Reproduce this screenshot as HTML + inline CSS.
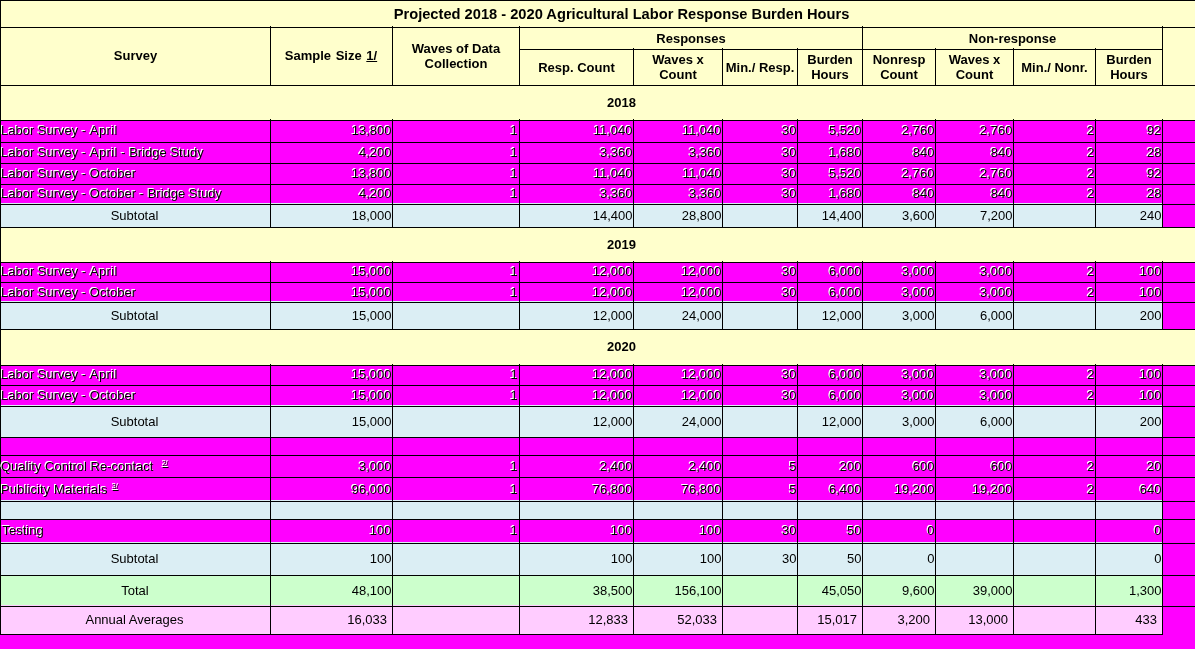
<!DOCTYPE html>
<html><head><meta charset="utf-8"><title>Burden Hours</title>
<style>
html,body{margin:0;padding:0;}
body{width:1195px;height:649px;overflow:hidden;background:#ffffcc;position:relative;font-family:"Liberation Sans",sans-serif;font-size:13px;color:#000;}
.r,.k,.t{position:absolute;}
.k{background:#000;}
.t{white-space:nowrap;will-change:transform;}
.b{font-weight:bold;}
.title{font-size:14.67px;}
.e{color:#000;text-shadow:-1px -1px 0 #fff,-1px -1px 0 #fff;}
.ap{letter-spacing:.35px;}
.sup{font-size:7px;line-height:0;vertical-align:5px;text-decoration:underline;}
</style></head><body>
<div class="r" style="left:0px;top:0px;width:1195px;height:649px;background:#ffffcc"></div>
<div class="r" style="left:0px;top:120px;width:1195px;height:22px;background:#ff00ff"></div>
<div class="r" style="left:0px;top:142px;width:1195px;height:21px;background:#ff00ff"></div>
<div class="r" style="left:0px;top:163px;width:1195px;height:21px;background:#ff00ff"></div>
<div class="r" style="left:0px;top:184px;width:1195px;height:20px;background:#ff00ff"></div>
<div class="r" style="left:0px;top:203px;width:1162px;height:24px;background:#dbeef4"></div>
<div class="r" style="left:1162px;top:204px;width:33px;height:23px;background:#ff00ff"></div>
<div class="r" style="left:0px;top:262px;width:1195px;height:20px;background:#ff00ff"></div>
<div class="r" style="left:0px;top:282px;width:1195px;height:20px;background:#ff00ff"></div>
<div class="r" style="left:0px;top:301px;width:1162px;height:28px;background:#dbeef4"></div>
<div class="r" style="left:1162px;top:302px;width:33px;height:27px;background:#ff00ff"></div>
<div class="r" style="left:0px;top:365px;width:1195px;height:20px;background:#ff00ff"></div>
<div class="r" style="left:0px;top:385px;width:1195px;height:21px;background:#ff00ff"></div>
<div class="r" style="left:0px;top:405px;width:1162px;height:32px;background:#dbeef4"></div>
<div class="r" style="left:1162px;top:406px;width:33px;height:31px;background:#ff00ff"></div>
<div class="r" style="left:0px;top:437px;width:1195px;height:18px;background:#ff00ff"></div>
<div class="r" style="left:0px;top:455px;width:1195px;height:22px;background:#ff00ff"></div>
<div class="r" style="left:0px;top:477px;width:1195px;height:24px;background:#ff00ff"></div>
<div class="r" style="left:0px;top:500px;width:1162px;height:19px;background:#dbeef4"></div>
<div class="r" style="left:1162px;top:501px;width:33px;height:18px;background:#ff00ff"></div>
<div class="r" style="left:0px;top:519px;width:1195px;height:24px;background:#ff00ff"></div>
<div class="r" style="left:0px;top:542px;width:1162px;height:33px;background:#dbeef4"></div>
<div class="r" style="left:1162px;top:543px;width:33px;height:32px;background:#ff00ff"></div>
<div class="r" style="left:0px;top:575px;width:1162px;height:31px;background:#ccffcc"></div>
<div class="r" style="left:1162px;top:575px;width:33px;height:31px;background:#ff00ff"></div>
<div class="r" style="left:0px;top:605px;width:1162px;height:29px;background:#ffccff"></div>
<div class="r" style="left:1162px;top:606px;width:33px;height:28px;background:#ff00ff"></div>
<div class="r" style="left:0px;top:634px;width:1195px;height:15px;background:#ff00ff"></div>
<div class="k" style="left:0px;top:0px;width:1195px;height:1px"></div>
<div class="k" style="left:0px;top:27px;width:1195px;height:1px"></div>
<div class="k" style="left:519px;top:49px;width:643px;height:1px"></div>
<div class="k" style="left:0px;top:85px;width:1195px;height:1px"></div>
<div class="k" style="left:0px;top:85px;width:1195px;height:1px"></div>
<div class="k" style="left:0px;top:120px;width:1195px;height:1px"></div>
<div class="k" style="left:0px;top:142px;width:1195px;height:1px"></div>
<div class="k" style="left:0px;top:163px;width:1195px;height:1px"></div>
<div class="k" style="left:0px;top:184px;width:1195px;height:1px"></div>
<div class="k" style="left:0px;top:204px;width:1195px;height:1px"></div>
<div class="k" style="left:0px;top:227px;width:1195px;height:1px"></div>
<div class="k" style="left:0px;top:262px;width:1195px;height:1px"></div>
<div class="k" style="left:0px;top:282px;width:1195px;height:1px"></div>
<div class="k" style="left:0px;top:302px;width:1195px;height:1px"></div>
<div class="k" style="left:0px;top:329px;width:1195px;height:1px"></div>
<div class="k" style="left:0px;top:365px;width:1195px;height:1px"></div>
<div class="k" style="left:0px;top:385px;width:1195px;height:1px"></div>
<div class="k" style="left:0px;top:406px;width:1195px;height:1px"></div>
<div class="k" style="left:0px;top:437px;width:1195px;height:1px"></div>
<div class="k" style="left:0px;top:455px;width:1195px;height:1px"></div>
<div class="k" style="left:0px;top:477px;width:1195px;height:1px"></div>
<div class="k" style="left:0px;top:501px;width:1195px;height:1px"></div>
<div class="k" style="left:0px;top:519px;width:1195px;height:1px"></div>
<div class="k" style="left:0px;top:543px;width:1195px;height:1px"></div>
<div class="k" style="left:0px;top:575px;width:1195px;height:1px"></div>
<div class="k" style="left:0px;top:606px;width:1195px;height:1px"></div>
<div class="k" style="left:0px;top:634px;width:1163px;height:1px"></div>
<div class="k" style="left:0px;top:0px;width:1px;height:635px"></div>
<div class="k" style="left:270px;top:26px;width:1px;height:59px"></div>
<div class="k" style="left:392px;top:26px;width:1px;height:59px"></div>
<div class="k" style="left:519px;top:26px;width:1px;height:59px"></div>
<div class="k" style="left:633px;top:26px;width:1px;height:59px"></div>
<div class="k" style="left:722px;top:26px;width:1px;height:59px"></div>
<div class="k" style="left:797px;top:26px;width:1px;height:59px"></div>
<div class="k" style="left:862px;top:26px;width:1px;height:59px"></div>
<div class="k" style="left:935px;top:26px;width:1px;height:59px"></div>
<div class="k" style="left:1013px;top:26px;width:1px;height:59px"></div>
<div class="k" style="left:1095px;top:26px;width:1px;height:59px"></div>
<div class="k" style="left:1162px;top:26px;width:1px;height:59px"></div>
<div class="k" style="left:270px;top:119px;width:1px;height:24px"></div>
<div class="k" style="left:392px;top:119px;width:1px;height:24px"></div>
<div class="k" style="left:519px;top:119px;width:1px;height:24px"></div>
<div class="k" style="left:633px;top:119px;width:1px;height:24px"></div>
<div class="k" style="left:722px;top:119px;width:1px;height:24px"></div>
<div class="k" style="left:797px;top:119px;width:1px;height:24px"></div>
<div class="k" style="left:862px;top:119px;width:1px;height:24px"></div>
<div class="k" style="left:935px;top:119px;width:1px;height:24px"></div>
<div class="k" style="left:1013px;top:119px;width:1px;height:24px"></div>
<div class="k" style="left:1095px;top:119px;width:1px;height:24px"></div>
<div class="k" style="left:1162px;top:119px;width:1px;height:24px"></div>
<div class="k" style="left:270px;top:141px;width:1px;height:23px"></div>
<div class="k" style="left:392px;top:141px;width:1px;height:23px"></div>
<div class="k" style="left:519px;top:141px;width:1px;height:23px"></div>
<div class="k" style="left:633px;top:141px;width:1px;height:23px"></div>
<div class="k" style="left:722px;top:141px;width:1px;height:23px"></div>
<div class="k" style="left:797px;top:141px;width:1px;height:23px"></div>
<div class="k" style="left:862px;top:141px;width:1px;height:23px"></div>
<div class="k" style="left:935px;top:141px;width:1px;height:23px"></div>
<div class="k" style="left:1013px;top:141px;width:1px;height:23px"></div>
<div class="k" style="left:1095px;top:141px;width:1px;height:23px"></div>
<div class="k" style="left:1162px;top:141px;width:1px;height:23px"></div>
<div class="k" style="left:270px;top:162px;width:1px;height:23px"></div>
<div class="k" style="left:392px;top:162px;width:1px;height:23px"></div>
<div class="k" style="left:519px;top:162px;width:1px;height:23px"></div>
<div class="k" style="left:633px;top:162px;width:1px;height:23px"></div>
<div class="k" style="left:722px;top:162px;width:1px;height:23px"></div>
<div class="k" style="left:797px;top:162px;width:1px;height:23px"></div>
<div class="k" style="left:862px;top:162px;width:1px;height:23px"></div>
<div class="k" style="left:935px;top:162px;width:1px;height:23px"></div>
<div class="k" style="left:1013px;top:162px;width:1px;height:23px"></div>
<div class="k" style="left:1095px;top:162px;width:1px;height:23px"></div>
<div class="k" style="left:1162px;top:162px;width:1px;height:23px"></div>
<div class="k" style="left:270px;top:183px;width:1px;height:22px"></div>
<div class="k" style="left:392px;top:183px;width:1px;height:22px"></div>
<div class="k" style="left:519px;top:183px;width:1px;height:22px"></div>
<div class="k" style="left:633px;top:183px;width:1px;height:22px"></div>
<div class="k" style="left:722px;top:183px;width:1px;height:22px"></div>
<div class="k" style="left:797px;top:183px;width:1px;height:22px"></div>
<div class="k" style="left:862px;top:183px;width:1px;height:22px"></div>
<div class="k" style="left:935px;top:183px;width:1px;height:22px"></div>
<div class="k" style="left:1013px;top:183px;width:1px;height:22px"></div>
<div class="k" style="left:1095px;top:183px;width:1px;height:22px"></div>
<div class="k" style="left:1162px;top:183px;width:1px;height:22px"></div>
<div class="k" style="left:270px;top:203px;width:1px;height:25px"></div>
<div class="k" style="left:392px;top:203px;width:1px;height:25px"></div>
<div class="k" style="left:519px;top:203px;width:1px;height:25px"></div>
<div class="k" style="left:633px;top:203px;width:1px;height:25px"></div>
<div class="k" style="left:722px;top:203px;width:1px;height:25px"></div>
<div class="k" style="left:797px;top:203px;width:1px;height:25px"></div>
<div class="k" style="left:862px;top:203px;width:1px;height:25px"></div>
<div class="k" style="left:935px;top:203px;width:1px;height:25px"></div>
<div class="k" style="left:1013px;top:203px;width:1px;height:25px"></div>
<div class="k" style="left:1095px;top:203px;width:1px;height:25px"></div>
<div class="k" style="left:1162px;top:203px;width:1px;height:25px"></div>
<div class="k" style="left:270px;top:261px;width:1px;height:22px"></div>
<div class="k" style="left:392px;top:261px;width:1px;height:22px"></div>
<div class="k" style="left:519px;top:261px;width:1px;height:22px"></div>
<div class="k" style="left:633px;top:261px;width:1px;height:22px"></div>
<div class="k" style="left:722px;top:261px;width:1px;height:22px"></div>
<div class="k" style="left:797px;top:261px;width:1px;height:22px"></div>
<div class="k" style="left:862px;top:261px;width:1px;height:22px"></div>
<div class="k" style="left:935px;top:261px;width:1px;height:22px"></div>
<div class="k" style="left:1013px;top:261px;width:1px;height:22px"></div>
<div class="k" style="left:1095px;top:261px;width:1px;height:22px"></div>
<div class="k" style="left:1162px;top:261px;width:1px;height:22px"></div>
<div class="k" style="left:270px;top:281px;width:1px;height:22px"></div>
<div class="k" style="left:392px;top:281px;width:1px;height:22px"></div>
<div class="k" style="left:519px;top:281px;width:1px;height:22px"></div>
<div class="k" style="left:633px;top:281px;width:1px;height:22px"></div>
<div class="k" style="left:722px;top:281px;width:1px;height:22px"></div>
<div class="k" style="left:797px;top:281px;width:1px;height:22px"></div>
<div class="k" style="left:862px;top:281px;width:1px;height:22px"></div>
<div class="k" style="left:935px;top:281px;width:1px;height:22px"></div>
<div class="k" style="left:1013px;top:281px;width:1px;height:22px"></div>
<div class="k" style="left:1095px;top:281px;width:1px;height:22px"></div>
<div class="k" style="left:1162px;top:281px;width:1px;height:22px"></div>
<div class="k" style="left:270px;top:301px;width:1px;height:29px"></div>
<div class="k" style="left:392px;top:301px;width:1px;height:29px"></div>
<div class="k" style="left:519px;top:301px;width:1px;height:29px"></div>
<div class="k" style="left:633px;top:301px;width:1px;height:29px"></div>
<div class="k" style="left:722px;top:301px;width:1px;height:29px"></div>
<div class="k" style="left:797px;top:301px;width:1px;height:29px"></div>
<div class="k" style="left:862px;top:301px;width:1px;height:29px"></div>
<div class="k" style="left:935px;top:301px;width:1px;height:29px"></div>
<div class="k" style="left:1013px;top:301px;width:1px;height:29px"></div>
<div class="k" style="left:1095px;top:301px;width:1px;height:29px"></div>
<div class="k" style="left:1162px;top:301px;width:1px;height:29px"></div>
<div class="k" style="left:270px;top:364px;width:1px;height:22px"></div>
<div class="k" style="left:392px;top:364px;width:1px;height:22px"></div>
<div class="k" style="left:519px;top:364px;width:1px;height:22px"></div>
<div class="k" style="left:633px;top:364px;width:1px;height:22px"></div>
<div class="k" style="left:722px;top:364px;width:1px;height:22px"></div>
<div class="k" style="left:797px;top:364px;width:1px;height:22px"></div>
<div class="k" style="left:862px;top:364px;width:1px;height:22px"></div>
<div class="k" style="left:935px;top:364px;width:1px;height:22px"></div>
<div class="k" style="left:1013px;top:364px;width:1px;height:22px"></div>
<div class="k" style="left:1095px;top:364px;width:1px;height:22px"></div>
<div class="k" style="left:1162px;top:364px;width:1px;height:22px"></div>
<div class="k" style="left:270px;top:384px;width:1px;height:23px"></div>
<div class="k" style="left:392px;top:384px;width:1px;height:23px"></div>
<div class="k" style="left:519px;top:384px;width:1px;height:23px"></div>
<div class="k" style="left:633px;top:384px;width:1px;height:23px"></div>
<div class="k" style="left:722px;top:384px;width:1px;height:23px"></div>
<div class="k" style="left:797px;top:384px;width:1px;height:23px"></div>
<div class="k" style="left:862px;top:384px;width:1px;height:23px"></div>
<div class="k" style="left:935px;top:384px;width:1px;height:23px"></div>
<div class="k" style="left:1013px;top:384px;width:1px;height:23px"></div>
<div class="k" style="left:1095px;top:384px;width:1px;height:23px"></div>
<div class="k" style="left:1162px;top:384px;width:1px;height:23px"></div>
<div class="k" style="left:270px;top:405px;width:1px;height:33px"></div>
<div class="k" style="left:392px;top:405px;width:1px;height:33px"></div>
<div class="k" style="left:519px;top:405px;width:1px;height:33px"></div>
<div class="k" style="left:633px;top:405px;width:1px;height:33px"></div>
<div class="k" style="left:722px;top:405px;width:1px;height:33px"></div>
<div class="k" style="left:797px;top:405px;width:1px;height:33px"></div>
<div class="k" style="left:862px;top:405px;width:1px;height:33px"></div>
<div class="k" style="left:935px;top:405px;width:1px;height:33px"></div>
<div class="k" style="left:1013px;top:405px;width:1px;height:33px"></div>
<div class="k" style="left:1095px;top:405px;width:1px;height:33px"></div>
<div class="k" style="left:1162px;top:405px;width:1px;height:33px"></div>
<div class="k" style="left:270px;top:436px;width:1px;height:20px"></div>
<div class="k" style="left:392px;top:436px;width:1px;height:20px"></div>
<div class="k" style="left:519px;top:436px;width:1px;height:20px"></div>
<div class="k" style="left:633px;top:436px;width:1px;height:20px"></div>
<div class="k" style="left:722px;top:436px;width:1px;height:20px"></div>
<div class="k" style="left:797px;top:436px;width:1px;height:20px"></div>
<div class="k" style="left:862px;top:436px;width:1px;height:20px"></div>
<div class="k" style="left:935px;top:436px;width:1px;height:20px"></div>
<div class="k" style="left:1013px;top:436px;width:1px;height:20px"></div>
<div class="k" style="left:1095px;top:436px;width:1px;height:20px"></div>
<div class="k" style="left:1162px;top:436px;width:1px;height:20px"></div>
<div class="k" style="left:270px;top:454px;width:1px;height:24px"></div>
<div class="k" style="left:392px;top:454px;width:1px;height:24px"></div>
<div class="k" style="left:519px;top:454px;width:1px;height:24px"></div>
<div class="k" style="left:633px;top:454px;width:1px;height:24px"></div>
<div class="k" style="left:722px;top:454px;width:1px;height:24px"></div>
<div class="k" style="left:797px;top:454px;width:1px;height:24px"></div>
<div class="k" style="left:862px;top:454px;width:1px;height:24px"></div>
<div class="k" style="left:935px;top:454px;width:1px;height:24px"></div>
<div class="k" style="left:1013px;top:454px;width:1px;height:24px"></div>
<div class="k" style="left:1095px;top:454px;width:1px;height:24px"></div>
<div class="k" style="left:1162px;top:454px;width:1px;height:24px"></div>
<div class="k" style="left:270px;top:476px;width:1px;height:26px"></div>
<div class="k" style="left:392px;top:476px;width:1px;height:26px"></div>
<div class="k" style="left:519px;top:476px;width:1px;height:26px"></div>
<div class="k" style="left:633px;top:476px;width:1px;height:26px"></div>
<div class="k" style="left:722px;top:476px;width:1px;height:26px"></div>
<div class="k" style="left:797px;top:476px;width:1px;height:26px"></div>
<div class="k" style="left:862px;top:476px;width:1px;height:26px"></div>
<div class="k" style="left:935px;top:476px;width:1px;height:26px"></div>
<div class="k" style="left:1013px;top:476px;width:1px;height:26px"></div>
<div class="k" style="left:1095px;top:476px;width:1px;height:26px"></div>
<div class="k" style="left:1162px;top:476px;width:1px;height:26px"></div>
<div class="k" style="left:270px;top:500px;width:1px;height:20px"></div>
<div class="k" style="left:392px;top:500px;width:1px;height:20px"></div>
<div class="k" style="left:519px;top:500px;width:1px;height:20px"></div>
<div class="k" style="left:633px;top:500px;width:1px;height:20px"></div>
<div class="k" style="left:722px;top:500px;width:1px;height:20px"></div>
<div class="k" style="left:797px;top:500px;width:1px;height:20px"></div>
<div class="k" style="left:862px;top:500px;width:1px;height:20px"></div>
<div class="k" style="left:935px;top:500px;width:1px;height:20px"></div>
<div class="k" style="left:1013px;top:500px;width:1px;height:20px"></div>
<div class="k" style="left:1095px;top:500px;width:1px;height:20px"></div>
<div class="k" style="left:1162px;top:500px;width:1px;height:20px"></div>
<div class="k" style="left:270px;top:518px;width:1px;height:26px"></div>
<div class="k" style="left:392px;top:518px;width:1px;height:26px"></div>
<div class="k" style="left:519px;top:518px;width:1px;height:26px"></div>
<div class="k" style="left:633px;top:518px;width:1px;height:26px"></div>
<div class="k" style="left:722px;top:518px;width:1px;height:26px"></div>
<div class="k" style="left:797px;top:518px;width:1px;height:26px"></div>
<div class="k" style="left:862px;top:518px;width:1px;height:26px"></div>
<div class="k" style="left:935px;top:518px;width:1px;height:26px"></div>
<div class="k" style="left:1013px;top:518px;width:1px;height:26px"></div>
<div class="k" style="left:1095px;top:518px;width:1px;height:26px"></div>
<div class="k" style="left:1162px;top:518px;width:1px;height:26px"></div>
<div class="k" style="left:270px;top:542px;width:1px;height:34px"></div>
<div class="k" style="left:392px;top:542px;width:1px;height:34px"></div>
<div class="k" style="left:519px;top:542px;width:1px;height:34px"></div>
<div class="k" style="left:633px;top:542px;width:1px;height:34px"></div>
<div class="k" style="left:722px;top:542px;width:1px;height:34px"></div>
<div class="k" style="left:797px;top:542px;width:1px;height:34px"></div>
<div class="k" style="left:862px;top:542px;width:1px;height:34px"></div>
<div class="k" style="left:935px;top:542px;width:1px;height:34px"></div>
<div class="k" style="left:1013px;top:542px;width:1px;height:34px"></div>
<div class="k" style="left:1095px;top:542px;width:1px;height:34px"></div>
<div class="k" style="left:1162px;top:542px;width:1px;height:34px"></div>
<div class="k" style="left:270px;top:574px;width:1px;height:33px"></div>
<div class="k" style="left:392px;top:574px;width:1px;height:33px"></div>
<div class="k" style="left:519px;top:574px;width:1px;height:33px"></div>
<div class="k" style="left:633px;top:574px;width:1px;height:33px"></div>
<div class="k" style="left:722px;top:574px;width:1px;height:33px"></div>
<div class="k" style="left:797px;top:574px;width:1px;height:33px"></div>
<div class="k" style="left:862px;top:574px;width:1px;height:33px"></div>
<div class="k" style="left:935px;top:574px;width:1px;height:33px"></div>
<div class="k" style="left:1013px;top:574px;width:1px;height:33px"></div>
<div class="k" style="left:1095px;top:574px;width:1px;height:33px"></div>
<div class="k" style="left:1162px;top:574px;width:1px;height:33px"></div>
<div class="k" style="left:270px;top:605px;width:1px;height:30px"></div>
<div class="k" style="left:392px;top:605px;width:1px;height:30px"></div>
<div class="k" style="left:519px;top:605px;width:1px;height:30px"></div>
<div class="k" style="left:633px;top:605px;width:1px;height:30px"></div>
<div class="k" style="left:722px;top:605px;width:1px;height:30px"></div>
<div class="k" style="left:797px;top:605px;width:1px;height:30px"></div>
<div class="k" style="left:862px;top:605px;width:1px;height:30px"></div>
<div class="k" style="left:935px;top:605px;width:1px;height:30px"></div>
<div class="k" style="left:1013px;top:605px;width:1px;height:30px"></div>
<div class="k" style="left:1095px;top:605px;width:1px;height:30px"></div>
<div class="k" style="left:1162px;top:605px;width:1px;height:30px"></div>
<div class="r" style="left:633px;top:26px;width:1px;height:22px;background:#ffffcc"></div>
<div class="r" style="left:722px;top:26px;width:1px;height:22px;background:#ffffcc"></div>
<div class="r" style="left:797px;top:26px;width:1px;height:22px;background:#ffffcc"></div>
<div class="r" style="left:935px;top:26px;width:1px;height:22px;background:#ffffcc"></div>
<div class="r" style="left:1013px;top:26px;width:1px;height:22px;background:#ffffcc"></div>
<div class="r" style="left:1095px;top:26px;width:1px;height:22px;background:#ffffcc"></div>
<div class="k" style="left:0px;top:27px;width:1195px;height:1px"></div>
<div class="t b title" style="left:0px;width:1243px;top:3px;height:22px;line-height:22px;text-align:center;">Projected 2018 - 2020 Agricultural Labor Response Burden Hours</div>
<div class="t b" style="left:0px;width:271px;top:45px;height:21px;line-height:21px;text-align:center;">Survey</div>
<div class="t b" style="left:270px;width:122px;top:45px;height:21px;line-height:21px;text-align:center;word-spacing:1px;">Sample Size <u>1/</u></div>
<div class="t b" style="left:392px;width:128px;top:41px;height:30px;line-height:15px;text-align:center;">Waves of Data<br>Collection</div>
<div class="t b" style="left:519px;width:344px;top:28px;height:21px;line-height:21px;text-align:center;">Responses</div>
<div class="t b" style="left:862px;width:301px;top:28px;height:21px;line-height:21px;text-align:center;">Non-response</div>
<div class="t b" style="left:519px;width:115px;top:57px;height:21px;line-height:21px;text-align:center;">Resp. Count</div>
<div class="t b" style="left:633px;width:90px;top:52px;height:30px;line-height:15px;text-align:center;">Waves x<br>Count</div>
<div class="t b" style="left:722px;width:76px;top:57px;height:21px;line-height:21px;text-align:center;">Min./ Resp.</div>
<div class="t b" style="left:797px;width:66px;top:52px;height:30px;line-height:15px;text-align:center;">Burden<br>Hours</div>
<div class="t b" style="left:862px;width:74px;top:52px;height:30px;line-height:15px;text-align:center;">Nonresp<br>Count</div>
<div class="t b" style="left:935px;width:79px;top:52px;height:30px;line-height:15px;text-align:center;">Waves x<br>Count</div>
<div class="t b" style="left:1013px;width:83px;top:57px;height:21px;line-height:21px;text-align:center;">Min./ Nonr.</div>
<div class="t b" style="left:1095px;width:68px;top:52px;height:30px;line-height:15px;text-align:center;">Burden<br>Hours</div>
<div class="t b" style="left:519px;width:205px;top:92px;height:21px;line-height:21px;text-align:center;">2018</div>
<div class="t e" style="left:1px;width:269px;top:120px;height:21px;line-height:21px;text-align:left;padding-left:0px;box-sizing:border-box;">Labor Survey - <span class="ap">April</span></div>
<div class="t e" style="left:270px;width:122px;top:120px;height:21px;line-height:21px;text-align:right;padding-right:0.5px;box-sizing:border-box;">13,800</div>
<div class="t e" style="left:392px;width:127px;top:120px;height:21px;line-height:21px;text-align:right;padding-right:1.2px;box-sizing:border-box;">1</div>
<div class="t e" style="left:519px;width:114px;top:120px;height:21px;line-height:21px;text-align:right;padding-right:0.5px;box-sizing:border-box;">11,040</div>
<div class="t e" style="left:633px;width:89px;top:120px;height:21px;line-height:21px;text-align:right;padding-right:0.5px;box-sizing:border-box;">11,040</div>
<div class="t e" style="left:722px;width:75px;top:120px;height:21px;line-height:21px;text-align:right;padding-right:0.5px;box-sizing:border-box;">30</div>
<div class="t e" style="left:797px;width:65px;top:120px;height:21px;line-height:21px;text-align:right;padding-right:0.5px;box-sizing:border-box;">5,520</div>
<div class="t e" style="left:862px;width:73px;top:120px;height:21px;line-height:21px;text-align:right;padding-right:0.5px;box-sizing:border-box;">2,760</div>
<div class="t e" style="left:935px;width:78px;top:120px;height:21px;line-height:21px;text-align:right;padding-right:0.5px;box-sizing:border-box;">2,760</div>
<div class="t e" style="left:1013px;width:82px;top:120px;height:21px;line-height:21px;text-align:right;padding-right:0.5px;box-sizing:border-box;">2</div>
<div class="t e" style="left:1095px;width:67px;top:120px;height:21px;line-height:21px;text-align:right;padding-right:0.5px;box-sizing:border-box;">92</div>
<div class="t e" style="left:1px;width:269px;top:142px;height:21px;line-height:21px;text-align:left;padding-left:0px;box-sizing:border-box;">Labor Survey - <span class="ap">April</span> - Bridge Study</div>
<div class="t e" style="left:270px;width:122px;top:142px;height:21px;line-height:21px;text-align:right;padding-right:0.5px;box-sizing:border-box;">4,200</div>
<div class="t e" style="left:392px;width:127px;top:142px;height:21px;line-height:21px;text-align:right;padding-right:1.2px;box-sizing:border-box;">1</div>
<div class="t e" style="left:519px;width:114px;top:142px;height:21px;line-height:21px;text-align:right;padding-right:0.5px;box-sizing:border-box;">3,360</div>
<div class="t e" style="left:633px;width:89px;top:142px;height:21px;line-height:21px;text-align:right;padding-right:0.5px;box-sizing:border-box;">3,360</div>
<div class="t e" style="left:722px;width:75px;top:142px;height:21px;line-height:21px;text-align:right;padding-right:0.5px;box-sizing:border-box;">30</div>
<div class="t e" style="left:797px;width:65px;top:142px;height:21px;line-height:21px;text-align:right;padding-right:0.5px;box-sizing:border-box;">1,680</div>
<div class="t e" style="left:862px;width:73px;top:142px;height:21px;line-height:21px;text-align:right;padding-right:0.5px;box-sizing:border-box;">840</div>
<div class="t e" style="left:935px;width:78px;top:142px;height:21px;line-height:21px;text-align:right;padding-right:0.5px;box-sizing:border-box;">840</div>
<div class="t e" style="left:1013px;width:82px;top:142px;height:21px;line-height:21px;text-align:right;padding-right:0.5px;box-sizing:border-box;">2</div>
<div class="t e" style="left:1095px;width:67px;top:142px;height:21px;line-height:21px;text-align:right;padding-right:0.5px;box-sizing:border-box;">28</div>
<div class="t e" style="left:1px;width:269px;top:163px;height:21px;line-height:21px;text-align:left;padding-left:0px;box-sizing:border-box;">Labor Survey - October</div>
<div class="t e" style="left:270px;width:122px;top:163px;height:21px;line-height:21px;text-align:right;padding-right:0.5px;box-sizing:border-box;">13,800</div>
<div class="t e" style="left:392px;width:127px;top:163px;height:21px;line-height:21px;text-align:right;padding-right:1.2px;box-sizing:border-box;">1</div>
<div class="t e" style="left:519px;width:114px;top:163px;height:21px;line-height:21px;text-align:right;padding-right:0.5px;box-sizing:border-box;">11,040</div>
<div class="t e" style="left:633px;width:89px;top:163px;height:21px;line-height:21px;text-align:right;padding-right:0.5px;box-sizing:border-box;">11,040</div>
<div class="t e" style="left:722px;width:75px;top:163px;height:21px;line-height:21px;text-align:right;padding-right:0.5px;box-sizing:border-box;">30</div>
<div class="t e" style="left:797px;width:65px;top:163px;height:21px;line-height:21px;text-align:right;padding-right:0.5px;box-sizing:border-box;">5,520</div>
<div class="t e" style="left:862px;width:73px;top:163px;height:21px;line-height:21px;text-align:right;padding-right:0.5px;box-sizing:border-box;">2,760</div>
<div class="t e" style="left:935px;width:78px;top:163px;height:21px;line-height:21px;text-align:right;padding-right:0.5px;box-sizing:border-box;">2,760</div>
<div class="t e" style="left:1013px;width:82px;top:163px;height:21px;line-height:21px;text-align:right;padding-right:0.5px;box-sizing:border-box;">2</div>
<div class="t e" style="left:1095px;width:67px;top:163px;height:21px;line-height:21px;text-align:right;padding-right:0.5px;box-sizing:border-box;">92</div>
<div class="t e" style="left:1px;width:269px;top:183px;height:21px;line-height:21px;text-align:left;padding-left:0px;box-sizing:border-box;">Labor Survey - October - Bridge Study</div>
<div class="t e" style="left:270px;width:122px;top:183px;height:21px;line-height:21px;text-align:right;padding-right:0.5px;box-sizing:border-box;">4,200</div>
<div class="t e" style="left:392px;width:127px;top:183px;height:21px;line-height:21px;text-align:right;padding-right:1.2px;box-sizing:border-box;">1</div>
<div class="t e" style="left:519px;width:114px;top:183px;height:21px;line-height:21px;text-align:right;padding-right:0.5px;box-sizing:border-box;">3,360</div>
<div class="t e" style="left:633px;width:89px;top:183px;height:21px;line-height:21px;text-align:right;padding-right:0.5px;box-sizing:border-box;">3,360</div>
<div class="t e" style="left:722px;width:75px;top:183px;height:21px;line-height:21px;text-align:right;padding-right:0.5px;box-sizing:border-box;">30</div>
<div class="t e" style="left:797px;width:65px;top:183px;height:21px;line-height:21px;text-align:right;padding-right:0.5px;box-sizing:border-box;">1,680</div>
<div class="t e" style="left:862px;width:73px;top:183px;height:21px;line-height:21px;text-align:right;padding-right:0.5px;box-sizing:border-box;">840</div>
<div class="t e" style="left:935px;width:78px;top:183px;height:21px;line-height:21px;text-align:right;padding-right:0.5px;box-sizing:border-box;">840</div>
<div class="t e" style="left:1013px;width:82px;top:183px;height:21px;line-height:21px;text-align:right;padding-right:0.5px;box-sizing:border-box;">2</div>
<div class="t e" style="left:1095px;width:67px;top:183px;height:21px;line-height:21px;text-align:right;padding-right:0.5px;box-sizing:border-box;">28</div>
<div class="t " style="left:0px;width:269px;top:205px;height:21px;line-height:21px;text-align:center;">Subtotal</div>
<div class="t " style="left:270px;width:122px;top:205px;height:21px;line-height:21px;text-align:right;padding-right:0.5px;box-sizing:border-box;">18,000</div>
<div class="t " style="left:519px;width:114px;top:205px;height:21px;line-height:21px;text-align:right;padding-right:0.5px;box-sizing:border-box;">14,400</div>
<div class="t " style="left:633px;width:89px;top:205px;height:21px;line-height:21px;text-align:right;padding-right:0.5px;box-sizing:border-box;">28,800</div>
<div class="t " style="left:797px;width:65px;top:205px;height:21px;line-height:21px;text-align:right;padding-right:0.5px;box-sizing:border-box;">14,400</div>
<div class="t " style="left:862px;width:73px;top:205px;height:21px;line-height:21px;text-align:right;padding-right:0.5px;box-sizing:border-box;">3,600</div>
<div class="t " style="left:935px;width:78px;top:205px;height:21px;line-height:21px;text-align:right;padding-right:0.5px;box-sizing:border-box;">7,200</div>
<div class="t " style="left:1095px;width:67px;top:205px;height:21px;line-height:21px;text-align:right;padding-right:0.5px;box-sizing:border-box;">240</div>
<div class="t b" style="left:519px;width:205px;top:234px;height:21px;line-height:21px;text-align:center;">2019</div>
<div class="t e" style="left:1px;width:269px;top:261px;height:21px;line-height:21px;text-align:left;padding-left:0px;box-sizing:border-box;">Labor Survey - <span class="ap">April</span></div>
<div class="t e" style="left:270px;width:122px;top:261px;height:21px;line-height:21px;text-align:right;padding-right:0.5px;box-sizing:border-box;">15,000</div>
<div class="t e" style="left:392px;width:127px;top:261px;height:21px;line-height:21px;text-align:right;padding-right:1.2px;box-sizing:border-box;">1</div>
<div class="t e" style="left:519px;width:114px;top:261px;height:21px;line-height:21px;text-align:right;padding-right:0.5px;box-sizing:border-box;">12,000</div>
<div class="t e" style="left:633px;width:89px;top:261px;height:21px;line-height:21px;text-align:right;padding-right:0.5px;box-sizing:border-box;">12,000</div>
<div class="t e" style="left:722px;width:75px;top:261px;height:21px;line-height:21px;text-align:right;padding-right:0.5px;box-sizing:border-box;">30</div>
<div class="t e" style="left:797px;width:65px;top:261px;height:21px;line-height:21px;text-align:right;padding-right:0.5px;box-sizing:border-box;">6,000</div>
<div class="t e" style="left:862px;width:73px;top:261px;height:21px;line-height:21px;text-align:right;padding-right:0.5px;box-sizing:border-box;">3,000</div>
<div class="t e" style="left:935px;width:78px;top:261px;height:21px;line-height:21px;text-align:right;padding-right:0.5px;box-sizing:border-box;">3,000</div>
<div class="t e" style="left:1013px;width:82px;top:261px;height:21px;line-height:21px;text-align:right;padding-right:0.5px;box-sizing:border-box;">2</div>
<div class="t e" style="left:1095px;width:67px;top:261px;height:21px;line-height:21px;text-align:right;padding-right:0.5px;box-sizing:border-box;">100</div>
<div class="t e" style="left:1px;width:269px;top:282px;height:21px;line-height:21px;text-align:left;padding-left:0px;box-sizing:border-box;">Labor Survey - October</div>
<div class="t e" style="left:270px;width:122px;top:282px;height:21px;line-height:21px;text-align:right;padding-right:0.5px;box-sizing:border-box;">15,000</div>
<div class="t e" style="left:392px;width:127px;top:282px;height:21px;line-height:21px;text-align:right;padding-right:1.2px;box-sizing:border-box;">1</div>
<div class="t e" style="left:519px;width:114px;top:282px;height:21px;line-height:21px;text-align:right;padding-right:0.5px;box-sizing:border-box;">12,000</div>
<div class="t e" style="left:633px;width:89px;top:282px;height:21px;line-height:21px;text-align:right;padding-right:0.5px;box-sizing:border-box;">12,000</div>
<div class="t e" style="left:722px;width:75px;top:282px;height:21px;line-height:21px;text-align:right;padding-right:0.5px;box-sizing:border-box;">30</div>
<div class="t e" style="left:797px;width:65px;top:282px;height:21px;line-height:21px;text-align:right;padding-right:0.5px;box-sizing:border-box;">6,000</div>
<div class="t e" style="left:862px;width:73px;top:282px;height:21px;line-height:21px;text-align:right;padding-right:0.5px;box-sizing:border-box;">3,000</div>
<div class="t e" style="left:935px;width:78px;top:282px;height:21px;line-height:21px;text-align:right;padding-right:0.5px;box-sizing:border-box;">3,000</div>
<div class="t e" style="left:1013px;width:82px;top:282px;height:21px;line-height:21px;text-align:right;padding-right:0.5px;box-sizing:border-box;">2</div>
<div class="t e" style="left:1095px;width:67px;top:282px;height:21px;line-height:21px;text-align:right;padding-right:0.5px;box-sizing:border-box;">100</div>
<div class="t " style="left:0px;width:269px;top:305px;height:21px;line-height:21px;text-align:center;">Subtotal</div>
<div class="t " style="left:270px;width:122px;top:305px;height:21px;line-height:21px;text-align:right;padding-right:0.5px;box-sizing:border-box;">15,000</div>
<div class="t " style="left:519px;width:114px;top:305px;height:21px;line-height:21px;text-align:right;padding-right:0.5px;box-sizing:border-box;">12,000</div>
<div class="t " style="left:633px;width:89px;top:305px;height:21px;line-height:21px;text-align:right;padding-right:0.5px;box-sizing:border-box;">24,000</div>
<div class="t " style="left:797px;width:65px;top:305px;height:21px;line-height:21px;text-align:right;padding-right:0.5px;box-sizing:border-box;">12,000</div>
<div class="t " style="left:862px;width:73px;top:305px;height:21px;line-height:21px;text-align:right;padding-right:0.5px;box-sizing:border-box;">3,000</div>
<div class="t " style="left:935px;width:78px;top:305px;height:21px;line-height:21px;text-align:right;padding-right:0.5px;box-sizing:border-box;">6,000</div>
<div class="t " style="left:1095px;width:67px;top:305px;height:21px;line-height:21px;text-align:right;padding-right:0.5px;box-sizing:border-box;">200</div>
<div class="t b" style="left:519px;width:205px;top:336px;height:21px;line-height:21px;text-align:center;">2020</div>
<div class="t e" style="left:1px;width:269px;top:364px;height:21px;line-height:21px;text-align:left;padding-left:0px;box-sizing:border-box;">Labor Survey - <span class="ap">April</span></div>
<div class="t e" style="left:270px;width:122px;top:364px;height:21px;line-height:21px;text-align:right;padding-right:0.5px;box-sizing:border-box;">15,000</div>
<div class="t e" style="left:392px;width:127px;top:364px;height:21px;line-height:21px;text-align:right;padding-right:1.2px;box-sizing:border-box;">1</div>
<div class="t e" style="left:519px;width:114px;top:364px;height:21px;line-height:21px;text-align:right;padding-right:0.5px;box-sizing:border-box;">12,000</div>
<div class="t e" style="left:633px;width:89px;top:364px;height:21px;line-height:21px;text-align:right;padding-right:0.5px;box-sizing:border-box;">12,000</div>
<div class="t e" style="left:722px;width:75px;top:364px;height:21px;line-height:21px;text-align:right;padding-right:0.5px;box-sizing:border-box;">30</div>
<div class="t e" style="left:797px;width:65px;top:364px;height:21px;line-height:21px;text-align:right;padding-right:0.5px;box-sizing:border-box;">6,000</div>
<div class="t e" style="left:862px;width:73px;top:364px;height:21px;line-height:21px;text-align:right;padding-right:0.5px;box-sizing:border-box;">3,000</div>
<div class="t e" style="left:935px;width:78px;top:364px;height:21px;line-height:21px;text-align:right;padding-right:0.5px;box-sizing:border-box;">3,000</div>
<div class="t e" style="left:1013px;width:82px;top:364px;height:21px;line-height:21px;text-align:right;padding-right:0.5px;box-sizing:border-box;">2</div>
<div class="t e" style="left:1095px;width:67px;top:364px;height:21px;line-height:21px;text-align:right;padding-right:0.5px;box-sizing:border-box;">100</div>
<div class="t e" style="left:1px;width:269px;top:385px;height:21px;line-height:21px;text-align:left;padding-left:0px;box-sizing:border-box;">Labor Survey - October</div>
<div class="t e" style="left:270px;width:122px;top:385px;height:21px;line-height:21px;text-align:right;padding-right:0.5px;box-sizing:border-box;">15,000</div>
<div class="t e" style="left:392px;width:127px;top:385px;height:21px;line-height:21px;text-align:right;padding-right:1.2px;box-sizing:border-box;">1</div>
<div class="t e" style="left:519px;width:114px;top:385px;height:21px;line-height:21px;text-align:right;padding-right:0.5px;box-sizing:border-box;">12,000</div>
<div class="t e" style="left:633px;width:89px;top:385px;height:21px;line-height:21px;text-align:right;padding-right:0.5px;box-sizing:border-box;">12,000</div>
<div class="t e" style="left:722px;width:75px;top:385px;height:21px;line-height:21px;text-align:right;padding-right:0.5px;box-sizing:border-box;">30</div>
<div class="t e" style="left:797px;width:65px;top:385px;height:21px;line-height:21px;text-align:right;padding-right:0.5px;box-sizing:border-box;">6,000</div>
<div class="t e" style="left:862px;width:73px;top:385px;height:21px;line-height:21px;text-align:right;padding-right:0.5px;box-sizing:border-box;">3,000</div>
<div class="t e" style="left:935px;width:78px;top:385px;height:21px;line-height:21px;text-align:right;padding-right:0.5px;box-sizing:border-box;">3,000</div>
<div class="t e" style="left:1013px;width:82px;top:385px;height:21px;line-height:21px;text-align:right;padding-right:0.5px;box-sizing:border-box;">2</div>
<div class="t e" style="left:1095px;width:67px;top:385px;height:21px;line-height:21px;text-align:right;padding-right:0.5px;box-sizing:border-box;">100</div>
<div class="t " style="left:0px;width:269px;top:411px;height:21px;line-height:21px;text-align:center;">Subtotal</div>
<div class="t " style="left:270px;width:122px;top:411px;height:21px;line-height:21px;text-align:right;padding-right:0.5px;box-sizing:border-box;">15,000</div>
<div class="t " style="left:519px;width:114px;top:411px;height:21px;line-height:21px;text-align:right;padding-right:0.5px;box-sizing:border-box;">12,000</div>
<div class="t " style="left:633px;width:89px;top:411px;height:21px;line-height:21px;text-align:right;padding-right:0.5px;box-sizing:border-box;">24,000</div>
<div class="t " style="left:797px;width:65px;top:411px;height:21px;line-height:21px;text-align:right;padding-right:0.5px;box-sizing:border-box;">12,000</div>
<div class="t " style="left:862px;width:73px;top:411px;height:21px;line-height:21px;text-align:right;padding-right:0.5px;box-sizing:border-box;">3,000</div>
<div class="t " style="left:935px;width:78px;top:411px;height:21px;line-height:21px;text-align:right;padding-right:0.5px;box-sizing:border-box;">6,000</div>
<div class="t " style="left:1095px;width:67px;top:411px;height:21px;line-height:21px;text-align:right;padding-right:0.5px;box-sizing:border-box;">200</div>
<div class="t e" style="left:1px;width:269px;top:456px;height:21px;line-height:21px;text-align:left;padding-left:0px;box-sizing:border-box;">Quality Control Re-contact &nbsp;<span class="sup" style="margin-left:2px">2/</span></div>
<div class="t e" style="left:270px;width:122px;top:456px;height:21px;line-height:21px;text-align:right;padding-right:0.5px;box-sizing:border-box;">3,000</div>
<div class="t e" style="left:392px;width:127px;top:456px;height:21px;line-height:21px;text-align:right;padding-right:1.2px;box-sizing:border-box;">1</div>
<div class="t e" style="left:519px;width:114px;top:456px;height:21px;line-height:21px;text-align:right;padding-right:0.5px;box-sizing:border-box;">2,400</div>
<div class="t e" style="left:633px;width:89px;top:456px;height:21px;line-height:21px;text-align:right;padding-right:0.5px;box-sizing:border-box;">2,400</div>
<div class="t e" style="left:722px;width:75px;top:456px;height:21px;line-height:21px;text-align:right;padding-right:0.5px;box-sizing:border-box;">5</div>
<div class="t e" style="left:797px;width:65px;top:456px;height:21px;line-height:21px;text-align:right;padding-right:0.5px;box-sizing:border-box;">200</div>
<div class="t e" style="left:862px;width:73px;top:456px;height:21px;line-height:21px;text-align:right;padding-right:0.5px;box-sizing:border-box;">600</div>
<div class="t e" style="left:935px;width:78px;top:456px;height:21px;line-height:21px;text-align:right;padding-right:0.5px;box-sizing:border-box;">600</div>
<div class="t e" style="left:1013px;width:82px;top:456px;height:21px;line-height:21px;text-align:right;padding-right:0.5px;box-sizing:border-box;">2</div>
<div class="t e" style="left:1095px;width:67px;top:456px;height:21px;line-height:21px;text-align:right;padding-right:0.5px;box-sizing:border-box;">20</div>
<div class="t e" style="left:1px;width:269px;top:479px;height:21px;line-height:21px;text-align:left;padding-left:0px;box-sizing:border-box;"><span style="letter-spacing:0.1px">Publicity Materials</span> <span class="sup" style="margin-left:1.5px">3/</span></div>
<div class="t e" style="left:270px;width:122px;top:479px;height:21px;line-height:21px;text-align:right;padding-right:0.5px;box-sizing:border-box;">96,000</div>
<div class="t e" style="left:392px;width:127px;top:479px;height:21px;line-height:21px;text-align:right;padding-right:1.2px;box-sizing:border-box;">1</div>
<div class="t e" style="left:519px;width:114px;top:479px;height:21px;line-height:21px;text-align:right;padding-right:0.5px;box-sizing:border-box;">76,800</div>
<div class="t e" style="left:633px;width:89px;top:479px;height:21px;line-height:21px;text-align:right;padding-right:0.5px;box-sizing:border-box;">76,800</div>
<div class="t e" style="left:722px;width:75px;top:479px;height:21px;line-height:21px;text-align:right;padding-right:0.5px;box-sizing:border-box;">5</div>
<div class="t e" style="left:797px;width:65px;top:479px;height:21px;line-height:21px;text-align:right;padding-right:0.5px;box-sizing:border-box;">6,400</div>
<div class="t e" style="left:862px;width:73px;top:479px;height:21px;line-height:21px;text-align:right;padding-right:0.5px;box-sizing:border-box;">19,200</div>
<div class="t e" style="left:935px;width:78px;top:479px;height:21px;line-height:21px;text-align:right;padding-right:0.5px;box-sizing:border-box;">19,200</div>
<div class="t e" style="left:1013px;width:82px;top:479px;height:21px;line-height:21px;text-align:right;padding-right:0.5px;box-sizing:border-box;">2</div>
<div class="t e" style="left:1095px;width:67px;top:479px;height:21px;line-height:21px;text-align:right;padding-right:0.5px;box-sizing:border-box;">640</div>
<div class="t e" style="left:1px;width:269px;top:520px;height:21px;line-height:21px;text-align:left;padding-left:1.5px;box-sizing:border-box;">Testing</div>
<div class="t e" style="left:270px;width:122px;top:520px;height:21px;line-height:21px;text-align:right;padding-right:0.5px;box-sizing:border-box;">100</div>
<div class="t e" style="left:392px;width:127px;top:520px;height:21px;line-height:21px;text-align:right;padding-right:1.2px;box-sizing:border-box;">1</div>
<div class="t e" style="left:519px;width:114px;top:520px;height:21px;line-height:21px;text-align:right;padding-right:0.5px;box-sizing:border-box;">100</div>
<div class="t e" style="left:633px;width:89px;top:520px;height:21px;line-height:21px;text-align:right;padding-right:0.5px;box-sizing:border-box;">100</div>
<div class="t e" style="left:722px;width:75px;top:520px;height:21px;line-height:21px;text-align:right;padding-right:0.5px;box-sizing:border-box;">30</div>
<div class="t e" style="left:797px;width:65px;top:520px;height:21px;line-height:21px;text-align:right;padding-right:0.5px;box-sizing:border-box;">50</div>
<div class="t e" style="left:862px;width:73px;top:520px;height:21px;line-height:21px;text-align:right;padding-right:0.5px;box-sizing:border-box;">0</div>
<div class="t e" style="left:1095px;width:67px;top:520px;height:21px;line-height:21px;text-align:right;padding-right:0.5px;box-sizing:border-box;">0</div>
<div class="t " style="left:0px;width:269px;top:548px;height:21px;line-height:21px;text-align:center;">Subtotal</div>
<div class="t " style="left:270px;width:122px;top:548px;height:21px;line-height:21px;text-align:right;padding-right:0.5px;box-sizing:border-box;">100</div>
<div class="t " style="left:519px;width:114px;top:548px;height:21px;line-height:21px;text-align:right;padding-right:0.5px;box-sizing:border-box;">100</div>
<div class="t " style="left:633px;width:89px;top:548px;height:21px;line-height:21px;text-align:right;padding-right:0.5px;box-sizing:border-box;">100</div>
<div class="t " style="left:722px;width:75px;top:548px;height:21px;line-height:21px;text-align:right;padding-right:0.5px;box-sizing:border-box;">30</div>
<div class="t " style="left:797px;width:65px;top:548px;height:21px;line-height:21px;text-align:right;padding-right:0.5px;box-sizing:border-box;">50</div>
<div class="t " style="left:862px;width:73px;top:548px;height:21px;line-height:21px;text-align:right;padding-right:0.5px;box-sizing:border-box;">0</div>
<div class="t " style="left:1095px;width:67px;top:548px;height:21px;line-height:21px;text-align:right;padding-right:0.5px;box-sizing:border-box;">0</div>
<div class="t " style="left:0px;width:270px;top:580px;height:21px;line-height:21px;text-align:center;">Total</div>
<div class="t " style="left:270px;width:122px;top:580px;height:21px;line-height:21px;text-align:right;padding-right:0.5px;box-sizing:border-box;">48,100</div>
<div class="t " style="left:519px;width:114px;top:580px;height:21px;line-height:21px;text-align:right;padding-right:0.5px;box-sizing:border-box;">38,500</div>
<div class="t " style="left:633px;width:89px;top:580px;height:21px;line-height:21px;text-align:right;padding-right:0.5px;box-sizing:border-box;">156,100</div>
<div class="t " style="left:797px;width:65px;top:580px;height:21px;line-height:21px;text-align:right;padding-right:0.5px;box-sizing:border-box;">45,050</div>
<div class="t " style="left:862px;width:73px;top:580px;height:21px;line-height:21px;text-align:right;padding-right:0.5px;box-sizing:border-box;">9,600</div>
<div class="t " style="left:935px;width:78px;top:580px;height:21px;line-height:21px;text-align:right;padding-right:0.5px;box-sizing:border-box;">39,000</div>
<div class="t " style="left:1095px;width:67px;top:580px;height:21px;line-height:21px;text-align:right;padding-right:0.5px;box-sizing:border-box;">1,300</div>
<div class="t " style="left:0px;width:269px;top:609px;height:21px;line-height:21px;text-align:center;">Annual Averages</div>
<div class="t " style="left:270px;width:122px;top:609px;height:21px;line-height:21px;text-align:right;padding-right:5px;box-sizing:border-box;">16,033</div>
<div class="t " style="left:519px;width:114px;top:609px;height:21px;line-height:21px;text-align:right;padding-right:5px;box-sizing:border-box;">12,833</div>
<div class="t " style="left:633px;width:89px;top:609px;height:21px;line-height:21px;text-align:right;padding-right:5px;box-sizing:border-box;">52,033</div>
<div class="t " style="left:797px;width:65px;top:609px;height:21px;line-height:21px;text-align:right;padding-right:5px;box-sizing:border-box;">15,017</div>
<div class="t " style="left:862px;width:73px;top:609px;height:21px;line-height:21px;text-align:right;padding-right:5px;box-sizing:border-box;">3,200</div>
<div class="t " style="left:935px;width:78px;top:609px;height:21px;line-height:21px;text-align:right;padding-right:5px;box-sizing:border-box;">13,000</div>
<div class="t " style="left:1095px;width:67px;top:609px;height:21px;line-height:21px;text-align:right;padding-right:5px;box-sizing:border-box;">433</div>
</body></html>
